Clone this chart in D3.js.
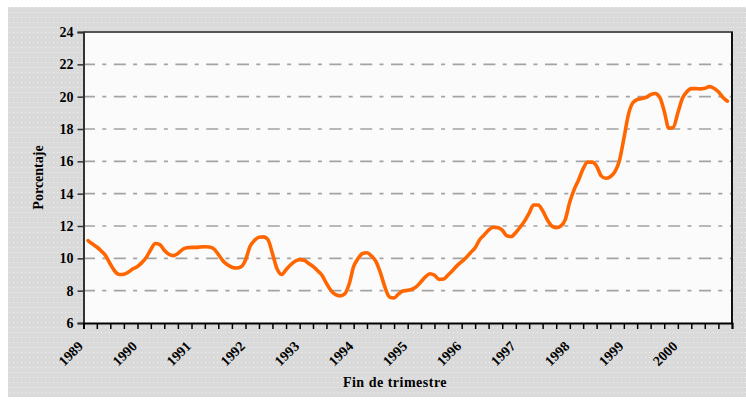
<!DOCTYPE html>
<html>
<head>
<meta charset="utf-8">
<script src="https://cdn.jsdelivr.net/npm/d3@7"></script>
<style>
  html, body { margin: 0; padding: 0; background: #ffffff; }
  svg { display: block; }
  text { font-family: "Liberation Serif", "Times New Roman", serif; font-weight: bold; fill: #000; }
</style>
</head>
<body>
<svg id="chart" width="746" height="400"></svg>
<script>
// ---- Data (monthly, end of month) ----
const startMonth = "1989-01";
const values = [
  11.10, 10.90, 10.70, 10.45, 10.15, 9.65, 9.20, 9.00, 9.02, 9.15, 9.35, 9.50,
  9.75, 10.05, 10.55, 10.92, 10.85, 10.50, 10.25, 10.17, 10.30, 10.55, 10.65, 10.68,
  10.68, 10.70, 10.72, 10.70, 10.58, 10.25, 9.85, 9.60, 9.45, 9.40, 9.47, 9.90,
  10.75, 11.10, 11.30, 11.33, 11.15, 10.30, 9.35, 9.00, 9.30, 9.60, 9.82, 9.92,
  9.88, 9.70, 9.50, 9.25, 8.95, 8.45, 8.00, 7.75, 7.68, 7.80, 8.40, 9.50,
  10.00, 10.30, 10.35, 10.15, 9.80, 9.10, 8.20, 7.60, 7.55, 7.80, 7.98, 8.02,
  8.10, 8.25, 8.55, 8.85, 9.05, 8.95, 8.70, 8.72, 8.97, 9.25, 9.55, 9.80,
  10.05, 10.35, 10.65, 11.15, 11.45, 11.75, 11.92, 11.90, 11.75, 11.40, 11.35, 11.60,
  11.95, 12.30, 12.80, 13.30, 13.30, 12.95, 12.40, 12.00, 11.90, 12.00, 12.40, 13.50,
  14.30, 14.85, 15.55, 15.95, 15.95, 15.70, 15.10, 14.95, 15.05, 15.35, 16.00, 17.40,
  18.90, 19.60, 19.82, 19.88, 19.95, 20.12, 20.20, 19.95, 19.10, 18.05, 18.10, 19.00,
  19.90, 20.30, 20.50, 20.50, 20.48, 20.52, 20.62, 20.52, 20.30, 19.95, 19.72
];
const yearLabels = ["1989","1990","1991","1992","1993","1994","1995","1996","1997","1998","1999","2000"];
const yTicks = [6, 8, 10, 12, 14, 16, 18, 20, 22, 24];
const yTitle = "Porcentaje";
const xTitle = "Fin de trimestre";

// ---- Layout ----
const svg = d3.select("#chart");
const plot = { left: 83.5, right: 732, top: 32, bottom: 323 };

// background with fine dot texture
const defs = svg.append("defs");
const pat = defs.append("pattern").attr("id", "dots")
  .attr("width", 4).attr("height", 5).attr("patternUnits", "userSpaceOnUse");
pat.append("rect").attr("width", 4).attr("height", 5).attr("fill", "#dadada");
pat.append("rect").attr("x", 1).attr("y", 2).attr("width", 1).attr("height", 1).attr("fill", "#efefef");

svg.append("rect").attr("x", 8).attr("y", 7).attr("width", 738).attr("height", 390)
  .attr("fill", "url(#dots)");

// plot background
svg.append("rect").attr("x", plot.left).attr("y", plot.top)
  .attr("width", plot.right - plot.left).attr("height", plot.bottom - plot.top)
  .attr("fill", "#fbfbfb");

// ---- Scales ----
const parseMonth = d3.timeParse("%Y-%m");
const t0 = parseMonth(startMonth);
const domainStart = new Date(1989, 0, 1);
const domainEnd = new Date(2001, 0, 1);
const x = d3.scaleTime().domain([domainStart, domainEnd]).range([plot.left, plot.right]);
const y = d3.scaleLinear().domain([6, 24]).range([plot.bottom, plot.top]);

const series = values.map((v, i) => ({ date: d3.timeMonth.offset(t0, i + 1), value: v }));

// ---- Gridlines (dash-dot) ----
svg.append("g").selectAll("line")
  .data(yTicks.filter(d => d > 6 && d < 24))
  .join("line")
  .attr("x1", plot.left + 1).attr("x2", plot.right - 1)
  .attr("y1", d => y(d)).attr("y2", d => y(d))
  .attr("stroke", "#a3a3a3").attr("stroke-width", 1.6)
  .attr("stroke-dasharray", "12,7.3,4,7.5")
  .attr("stroke-dashoffset", 1.5);

// ---- Borders ----
svg.append("line").attr("x1", plot.left).attr("x2", plot.right + 1)
  .attr("y1", plot.top).attr("y2", plot.top)
  .attr("stroke", "#555").attr("stroke-width", 2);
svg.append("line").attr("x1", plot.right).attr("x2", plot.right)
  .attr("y1", plot.top).attr("y2", plot.bottom)
  .attr("stroke", "#111").attr("stroke-width", 2);

// ---- Y axis ----
const yAxis = d3.axisLeft(y).tickValues(yTicks).tickSize(6).tickPadding(4).tickFormat(d3.format("d"));
const gy = svg.append("g").attr("transform", `translate(${plot.left},0)`).call(yAxis);
gy.select(".domain").attr("stroke", "#333").attr("stroke-width", 2);
gy.selectAll(".tick line").attr("stroke", "#333").attr("stroke-width", 1.5);
gy.selectAll(".tick text")
  .style("font-family", '"Liberation Serif", "Times New Roman", serif')
  .style("font-weight", "bold").style("font-size", "14px").attr("fill", "#000");

// ---- X axis ----
const quarterTicks = d3.timeMonth.every(3).range(domainStart, d3.timeDay.offset(domainEnd, 1));
const xAxis = d3.axisBottom(x).tickValues(quarterTicks).tickSize(6)
  .tickFormat(d => d.getMonth() === 0 ? yearLabels[d.getFullYear() - 1989] || "" : "");
const gx = svg.append("g").attr("transform", `translate(0,${plot.bottom})`).call(xAxis);
gx.select(".domain").attr("stroke", "#000").attr("stroke-width", 2);
gx.selectAll(".tick line").attr("stroke", "#000").attr("stroke-width", 1.5);
gx.selectAll(".tick text")
  .style("font-family", '"Liberation Serif", "Times New Roman", serif')
  .style("font-weight", "bold").style("font-size", "14px").attr("fill", "#000")
  .attr("text-anchor", "end")
  .attr("dy", null).attr("y", null)
  .attr("transform", "translate(0,24) rotate(-45)");

// ---- Line ----
const line = d3.line()
  .x(d => x(d.date))
  .y(d => y(d.value))
  .curve(d3.curveMonotoneX);
svg.append("path").datum(series)
  .attr("d", line)
  .attr("fill", "none")
  .attr("stroke", "#ff6600")
  .attr("stroke-width", 3.6)
  .attr("stroke-linejoin", "round")
  .attr("stroke-linecap", "round");

// ---- Titles ----
svg.append("text")
  .attr("transform", `translate(43,${(plot.top + plot.bottom) / 2}) rotate(-90)`)
  .attr("text-anchor", "middle")
  .style("font-size", "14px")
  .text(yTitle);
svg.append("text")
  .attr("x", 395).attr("y", 387)
  .attr("text-anchor", "middle")
  .style("font-size", "14px")
  .style("letter-spacing", "0.5px")
  .text(xTitle);
</script>
</body>
</html>
